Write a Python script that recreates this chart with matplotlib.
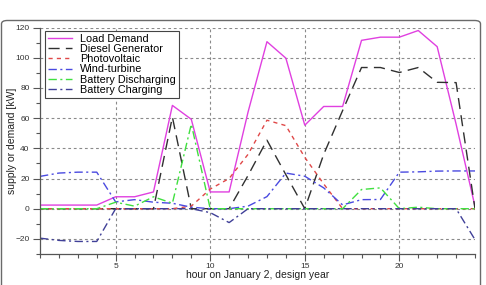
import matplotlib
matplotlib.use("Agg")
import matplotlib.pyplot as plt
from matplotlib.patches import FancyBboxPatch
import numpy as np

hours = list(range(1, 25))
load_demand = [2.4, 2.4, 2.4, 2.4, 7.9, 7.9, 11.1, 68.4, 59.2, 11.1, 11.1, 64,
               110.6, 99.7, 55.3, 67.7, 67.7, 111.5, 113.6, 113.6, 118, 107.3, 56, 1.5]
diesel = [0, 0, 0, 0, 0, 0, 0, 60.7, 0, 0, 0, 22, 45.4, 22.5, 0, 36, 65, 93.5,
          93.5, 90.2, 93.5, 83.7, 83.5, 0]
photovoltaic = [0, 0, 0, 0, 0, 0, 0, 0, 1.7, 13, 20, 36, 58.6, 55, 34, 16.4, 0,
                0, 0, 0, 0, 0, 0, 0]
wind = [21.4, 23.6, 24.2, 24.2, 4.5, 6, 4.3, 3.6, 1, 0, 0, 1.7, 8, 23.6, 21.5,
        13.8, 2.5, 6, 6.1, 24.2, 24.4, 24.9, 25, 25]
discharging = [0, 0, 0, 0, 4.3, 1.7, 7.9, 3.6, 56, 0, 0, 0, 0, 0, 0, 0, 0,
               12.7, 13.8, 0, 1, 0, 0, 0]
charging = [-19.5, -21, -21.7, -21.7, 0, 0, 0, 0, 0, -2.6, -9.2, 0, 0, 0, 0, 0,
            0, 0, 0, 0, 0, 0, 0, -20.5]

x_major = [5, 10, 15, 20]
y_major = [-20, 0, 20, 40, 60, 80, 100, 120]

plt.rcParams['font.family'] = ['Liberation Sans', 'DejaVu Sans']

fig = plt.figure(figsize=(4.86, 2.85), dpi=100)
frame = FancyBboxPatch((1.5 / 486, -0.05), 479 / 486, (285 - 20.5) / 285 + 0.05,
                       boxstyle="round,pad=0,rounding_size=0.012",
                       transform=fig.transFigure, facecolor='white',
                       edgecolor='#6a6a6a', linewidth=1.0, zorder=-10)
fig.patches.append(frame)

ax = fig.add_axes([40 / 486, 1 - 254 / 285, (475 - 40) / 486, (254 - 27.5) / 285])
ax.set_zorder(5)
ax.set_facecolor('none')

ax.plot(hours, load_demand, color='#e040e0', lw=1.0, label='Load Demand')
ax.plot(hours, diesel, color='#303030', lw=1.0, dashes=(8, 4.5), label='Diesel Generator')
ax.plot(hours, photovoltaic, color='#e04848', lw=1.0, dashes=(3, 3), label='Photovoltaic')
ax.plot(hours, wind, color='#4a4ae0', lw=1.0, dashes=(6, 2.5, 1.5, 2.5), label='Wind-turbine')
ax.plot(hours, discharging, color='#40e040', lw=1.0, dashes=(6, 2.5, 1.5, 2.5), label='Battery Discharging')
ax.plot(hours, charging, color='#404098', lw=1.0, dashes=(6, 2.5, 1.5, 2.5), label='Battery Charging')

ax.set_xlim(1, 24)
ax.set_ylim(-30, 120)
ax.set_xticks(x_major)
ax.set_xticks(hours, minor=True)
ax.set_yticks(y_major)
ax.set_yticks(np.arange(-30, 121, 10), minor=True)

ax.grid(True, which='major', color='#8a8a8a', linestyle=(0, (2.5, 2.5)), lw=0.8)
for s in ['top', 'right']:
    ax.spines[s].set_visible(False)
for s in ['left', 'bottom']:
    ax.spines[s].set_color('#555555')
    ax.spines[s].set_linewidth(0.9)

ax.tick_params(which='major', direction='out', length=5, width=0.8, color='#555555',
               labelsize=6, labelcolor='#333333')
ax.tick_params(axis='y', which='major', pad=2.5)
ax.tick_params(axis='x', which='major', pad=1.5)
ax.tick_params(which='minor', direction='out', length=3, width=0.8, color='#555555')

ax.set_xlabel('hour on January 2, design year', fontsize=7.5, color='#222222')
ax.set_ylabel('supply or demand [kW]', fontsize=7.5, color='#222222')
ax.xaxis.label.set_va('center')
ax.yaxis.label.set_va('center')
ax.xaxis.set_label_coords(0.5, (254 - 275) / 226.5)
ax.yaxis.set_label_coords((12 - 40) / 435, 0.5)

leg = ax.legend(loc='upper left', bbox_to_anchor=(5 / 435, 1 - 3.5 / 226.5),
                fontsize=7.8, frameon=True, fancybox=False, borderaxespad=0,
                handlelength=2.2, handletextpad=0.8, labelspacing=0.02,
                borderpad=0.25)
leg.get_frame().set_edgecolor('#444444')
leg.get_frame().set_linewidth(0.8)
leg.get_frame().set_facecolor('white')
leg.get_frame().set_alpha(1.0)

fig.savefig('out.png', dpi=100)
